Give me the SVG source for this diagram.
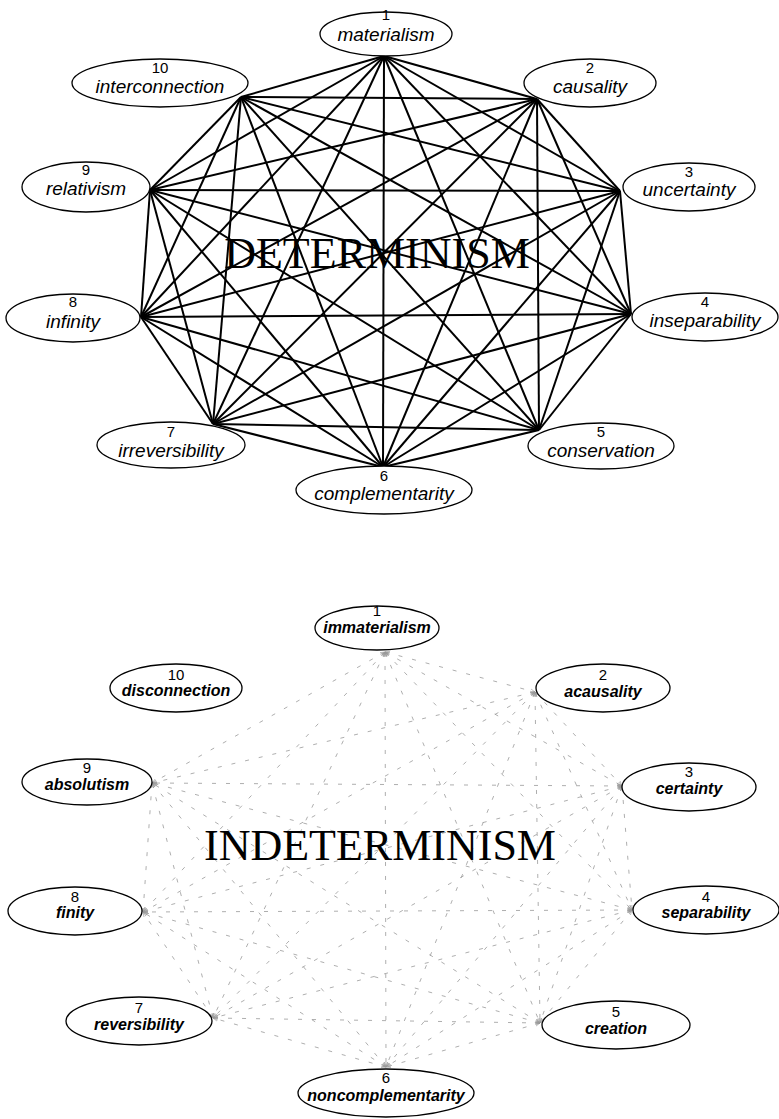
<svg xmlns="http://www.w3.org/2000/svg" width="779" height="1119" viewBox="0 0 779 1119">
<style>
.node ellipse{fill:#fff;stroke:#000;stroke-width:1.3}
.num{font-family:"Liberation Sans",Arial,sans-serif;font-size:15px;text-anchor:middle;fill:#000}
.lab{font-family:"Liberation Sans",Arial,sans-serif;font-size:19px;font-style:italic;text-anchor:middle;fill:#000}
.labb{font-family:"Liberation Sans",Arial,sans-serif;font-size:16px;font-style:italic;font-weight:bold;text-anchor:middle;fill:#000}
.title{font-family:"Liberation Serif","Times New Roman",serif;font-size:44px;text-anchor:middle;fill:#000}
#top-edges line{stroke:#000;stroke-width:2}
#bottom-edges line{stroke:#999;stroke-width:0.8;stroke-dasharray:4 10;marker-start:url(#ah);marker-end:url(#ah)}
</style>
<defs>
<marker id="ah" viewBox="0 0 10 10" refX="10" refY="5" markerWidth="5" markerHeight="5" markerUnits="userSpaceOnUse" orient="auto-start-reverse">
<path d="M0,1 L10,5 L0,9" fill="none" stroke="#999" stroke-width="1.2"/>
</marker>
</defs>
<rect width="779" height="1119" fill="#fff"/>
<g id="connectors">
<g id="top-edges">
<line x1="384" y1="56" x2="537" y2="99"/>
<line x1="384" y1="56" x2="620" y2="191"/>
<line x1="384" y1="56" x2="631" y2="314"/>
<line x1="384" y1="56" x2="539" y2="430"/>
<line x1="384" y1="56" x2="383" y2="467"/>
<line x1="384" y1="56" x2="213" y2="424"/>
<line x1="384" y1="56" x2="141" y2="317"/>
<line x1="384" y1="56" x2="150" y2="190"/>
<line x1="384" y1="56" x2="241" y2="97"/>
<line x1="537" y1="99" x2="620" y2="191"/>
<line x1="537" y1="99" x2="631" y2="314"/>
<line x1="537" y1="99" x2="539" y2="430"/>
<line x1="537" y1="99" x2="383" y2="467"/>
<line x1="537" y1="99" x2="213" y2="424"/>
<line x1="537" y1="99" x2="141" y2="317"/>
<line x1="537" y1="99" x2="150" y2="190"/>
<line x1="537" y1="99" x2="241" y2="97"/>
<line x1="620" y1="191" x2="631" y2="314"/>
<line x1="620" y1="191" x2="539" y2="430"/>
<line x1="620" y1="191" x2="383" y2="467"/>
<line x1="620" y1="191" x2="213" y2="424"/>
<line x1="620" y1="191" x2="141" y2="317"/>
<line x1="620" y1="191" x2="150" y2="190"/>
<line x1="620" y1="191" x2="241" y2="97"/>
<line x1="631" y1="314" x2="539" y2="430"/>
<line x1="631" y1="314" x2="383" y2="467"/>
<line x1="631" y1="314" x2="213" y2="424"/>
<line x1="631" y1="314" x2="141" y2="317"/>
<line x1="631" y1="314" x2="150" y2="190"/>
<line x1="631" y1="314" x2="241" y2="97"/>
<line x1="539" y1="430" x2="383" y2="467"/>
<line x1="539" y1="430" x2="213" y2="424"/>
<line x1="539" y1="430" x2="141" y2="317"/>
<line x1="539" y1="430" x2="150" y2="190"/>
<line x1="539" y1="430" x2="241" y2="97"/>
<line x1="383" y1="467" x2="213" y2="424"/>
<line x1="383" y1="467" x2="141" y2="317"/>
<line x1="383" y1="467" x2="150" y2="190"/>
<line x1="383" y1="467" x2="241" y2="97"/>
<line x1="213" y1="424" x2="141" y2="317"/>
<line x1="213" y1="424" x2="150" y2="190"/>
<line x1="213" y1="424" x2="241" y2="97"/>
<line x1="141" y1="317" x2="150" y2="190"/>
<line x1="141" y1="317" x2="241" y2="97"/>
<line x1="150" y1="190" x2="241" y2="97"/>
</g>
<g id="bottom-edges">
<line x1="385" y1="652" x2="535" y2="692"/>
<line x1="385" y1="652" x2="622" y2="786"/>
<line x1="385" y1="652" x2="632" y2="910"/>
<line x1="385" y1="652" x2="540" y2="1023"/>
<line x1="385" y1="652" x2="386" y2="1067"/>
<line x1="385" y1="652" x2="213" y2="1018"/>
<line x1="385" y1="652" x2="143" y2="912"/>
<line x1="385" y1="652" x2="152" y2="783"/>
<line x1="535" y1="692" x2="622" y2="786"/>
<line x1="535" y1="692" x2="632" y2="910"/>
<line x1="535" y1="692" x2="540" y2="1023"/>
<line x1="535" y1="692" x2="386" y2="1067"/>
<line x1="535" y1="692" x2="213" y2="1018"/>
<line x1="535" y1="692" x2="143" y2="912"/>
<line x1="535" y1="692" x2="152" y2="783"/>
<line x1="622" y1="786" x2="632" y2="910"/>
<line x1="622" y1="786" x2="540" y2="1023"/>
<line x1="622" y1="786" x2="386" y2="1067"/>
<line x1="622" y1="786" x2="213" y2="1018"/>
<line x1="622" y1="786" x2="143" y2="912"/>
<line x1="622" y1="786" x2="152" y2="783"/>
<line x1="632" y1="910" x2="540" y2="1023"/>
<line x1="632" y1="910" x2="386" y2="1067"/>
<line x1="632" y1="910" x2="213" y2="1018"/>
<line x1="632" y1="910" x2="143" y2="912"/>
<line x1="632" y1="910" x2="152" y2="783"/>
<line x1="540" y1="1023" x2="386" y2="1067"/>
<line x1="540" y1="1023" x2="213" y2="1018"/>
<line x1="540" y1="1023" x2="143" y2="912"/>
<line x1="540" y1="1023" x2="152" y2="783"/>
<line x1="386" y1="1067" x2="213" y2="1018"/>
<line x1="386" y1="1067" x2="143" y2="912"/>
<line x1="386" y1="1067" x2="152" y2="783"/>
<line x1="213" y1="1018" x2="143" y2="912"/>
<line x1="213" y1="1018" x2="152" y2="783"/>
<line x1="143" y1="912" x2="152" y2="783"/>
</g>
</g>
<text class="title" x="377" y="268">DETERMINISM</text>
<text class="title" x="380" y="860">INDETERMINISM</text>
<g id="d1" class="node"><ellipse cx="386" cy="34" rx="66" ry="22"/><text class="num" x="386" y="20">1</text><text class="lab" x="386" y="41">materialism</text></g>
<g id="d2" class="node"><ellipse cx="590" cy="83" rx="66" ry="24"/><text class="num" x="590" y="73">2</text><text class="lab" x="590" y="93">causality</text></g>
<g id="d3" class="node"><ellipse cx="689" cy="187" rx="66" ry="24"/><text class="num" x="689" y="177">3</text><text class="lab" x="689" y="196">uncertainty</text></g>
<g id="d4" class="node"><ellipse cx="705" cy="317" rx="73" ry="24"/><text class="num" x="705" y="307">4</text><text class="lab" x="705" y="327">inseparability</text></g>
<g id="d5" class="node"><ellipse cx="601" cy="446" rx="73" ry="23"/><text class="num" x="601" y="437">5</text><text class="lab" x="601" y="457">conservation</text></g>
<g id="d6" class="node"><ellipse cx="384" cy="490" rx="88" ry="24"/><text class="num" x="384" y="481">6</text><text class="lab" x="384" y="500">complementarity</text></g>
<g id="d7" class="node"><ellipse cx="171" cy="445" rx="74" ry="23"/><text class="num" x="171" y="437">7</text><text class="lab" x="171" y="457">irreversibility</text></g>
<g id="d8" class="node"><ellipse cx="73" cy="318" rx="67" ry="24"/><text class="num" x="73" y="307">8</text><text class="lab" x="73" y="328">infinity</text></g>
<g id="d9" class="node"><ellipse cx="86" cy="187" rx="64" ry="25"/><text class="num" x="86" y="175">9</text><text class="lab" x="86" y="195">relativism</text></g>
<g id="d10" class="node"><ellipse cx="160" cy="83" rx="88" ry="24"/><text class="num" x="160" y="73">10</text><text class="lab" x="160" y="93">interconnection</text></g>
<g id="i1" class="node"><ellipse cx="377" cy="628" rx="62" ry="22"/><text class="num" x="377" y="616">1</text><text class="labb" x="377" y="633">immaterialism</text></g>
<g id="i2" class="node"><ellipse cx="603" cy="688" rx="67" ry="24"/><text class="num" x="603" y="680">2</text><text class="labb" x="603" y="697">acausality</text></g>
<g id="i3" class="node"><ellipse cx="689" cy="787" rx="67" ry="24"/><text class="num" x="689" y="777">3</text><text class="labb" x="689" y="794">certainty</text></g>
<g id="i4" class="node"><ellipse cx="706" cy="910" rx="73" ry="24"/><text class="num" x="706" y="902">4</text><text class="labb" x="706" y="918">separability</text></g>
<g id="i5" class="node"><ellipse cx="616" cy="1025" rx="74" ry="24"/><text class="num" x="616" y="1017">5</text><text class="labb" x="616" y="1034">creation</text></g>
<g id="i6" class="node"><ellipse cx="386" cy="1093" rx="88" ry="24"/><text class="num" x="386" y="1083">6</text><text class="labb" x="386" y="1101">noncomplementarity</text></g>
<g id="i7" class="node"><ellipse cx="139" cy="1021" rx="73" ry="24"/><text class="num" x="139" y="1013">7</text><text class="labb" x="139" y="1030">reversibility</text></g>
<g id="i8" class="node"><ellipse cx="75" cy="911" rx="67" ry="24"/><text class="num" x="75" y="902">8</text><text class="labb" x="75" y="918">finity</text></g>
<g id="i9" class="node"><ellipse cx="87" cy="782" rx="65" ry="23"/><text class="num" x="87" y="773">9</text><text class="labb" x="87" y="790">absolutism</text></g>
<g id="i10" class="node"><ellipse cx="176" cy="688" rx="66" ry="24"/><text class="num" x="176" y="680">10</text><text class="labb" x="176" y="696">disconnection</text></g>
</svg>
